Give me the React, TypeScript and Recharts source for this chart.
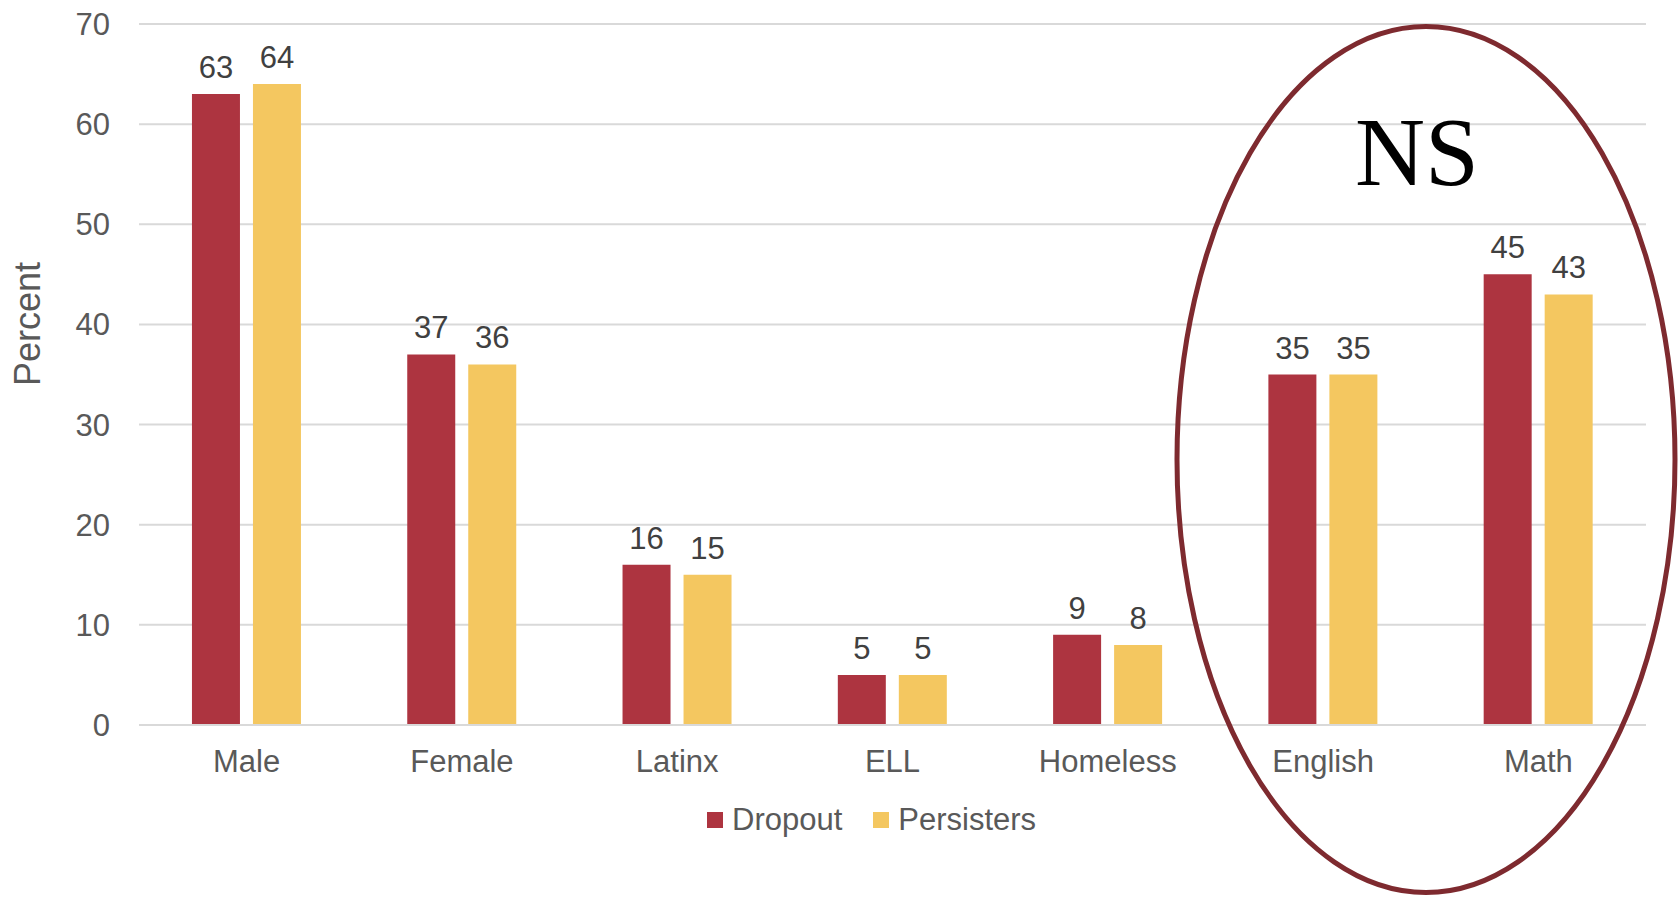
import React from 'react';
import { BarChart, Bar, XAxis, YAxis, CartesianGrid, LabelList, Legend } from 'recharts';

const categories = ['Male', 'Female', 'Latinx', 'ELL', 'Homeless', 'English', 'Math'];
const dropout = [63, 37, 16, 5, 9, 35, 45];
const persisters = [64, 36, 15, 5, 8, 35, 43];
const yTicks = [0, 10, 20, 30, 40, 50, 60, 70];

const RED = '#AD3440';
const GOLD = '#F4C760';
const GRID = '#D9D9D9';
const AXIS_TEXT = '#595959';
const LABEL_TEXT = '#404040';
const FONT = '"Liberation Sans", Arial, sans-serif';

const data = categories.map((name, i) => ({
  name,
  Dropout: dropout[i],
  Persisters: persisters[i],
}));

const legendItems = [
  { label: 'Dropout', color: RED },
  { label: 'Persisters', color: GOLD },
];

function LegendContent() {
  return (
    <div style={{ display: 'flex', alignItems: 'center', fontFamily: FONT, fontSize: 31, color: AXIS_TEXT }}>
      {legendItems.map((it, i) => (
        <div key={it.label} style={{ display: 'flex', alignItems: 'center', marginRight: i === 0 ? 31 : 0 }}>
          <span style={{ display: 'inline-block', width: 16, height: 16, background: it.color, marginRight: 9 }} />
          <span style={{ lineHeight: '36px' }}>{it.label}</span>
        </div>
      ))}
    </div>
  );
}

export default function App() {
  return (
    <div style={{ position: 'absolute', left: 0, top: 0, width: 1679, height: 899, background: '#fff' }}>
      <BarChart
        width={1679}
        height={899}
        data={data}
        margin={{ top: 24, right: 33, bottom: 108, left: 0 }}
        barCategoryGap="24.6%"
        barGap={13}
        style={{ fontFamily: FONT }}
      >
        <CartesianGrid vertical={false} stroke={GRID} strokeWidth={2} />
        <XAxis
          dataKey="name"
          axisLine={{ stroke: GRID, strokeWidth: 2 }}
          tickLine={false}
          tickMargin={19}
          tick={{ fill: AXIS_TEXT, fontSize: 31, fontFamily: FONT }}
          interval={0}
        />
        <YAxis
          width={139}
          domain={[0, 70]}
          ticks={yTicks}
          axisLine={false}
          tickLine={false}
          tickMargin={23}
          tick={{ fill: AXIS_TEXT, fontSize: 31, fontFamily: FONT }}
          label={{
            value: 'Percent',
            angle: -90,
            position: 'insideLeft',
            offset: 0,
            content: () => (
              <text
                x={40}
                y={324}
                transform="rotate(-90 40 324)"
                textAnchor="middle"
                fill={AXIS_TEXT}
                fontSize={36}
                fontFamily={FONT}
              >
                Percent
              </text>
            ),
          }}
        />
        <Legend
          content={<LegendContent />}
          wrapperStyle={{ left: 707, top: 802, width: 'auto', bottom: 'auto' }}
        />
        <Bar dataKey="Dropout" fill={RED} isAnimationActive={false}>
          <LabelList dataKey="Dropout" position="top" offset={16} fill={LABEL_TEXT} fontSize={31} fontFamily={FONT} />
        </Bar>
        <Bar dataKey="Persisters" fill={GOLD} isAnimationActive={false}>
          <LabelList dataKey="Persisters" position="top" offset={16} fill={LABEL_TEXT} fontSize={31} fontFamily={FONT} />
        </Bar>
      </BarChart>
      <svg
        width={1679}
        height={899}
        style={{ position: 'absolute', left: 0, top: 0, pointerEvents: 'none' }}
      >
        <ellipse cx={1426} cy={459.5} rx={249} ry={433} fill="none" stroke="#7E2A2F" strokeWidth={5} />
        <text
          x={1417}
          y={185}
          textAnchor="middle"
          fontSize={97}
          fontFamily='"Liberation Serif", "Times New Roman", serif'
          fill="#000"
        >
          NS
        </text>
      </svg>
    </div>
  );
}
